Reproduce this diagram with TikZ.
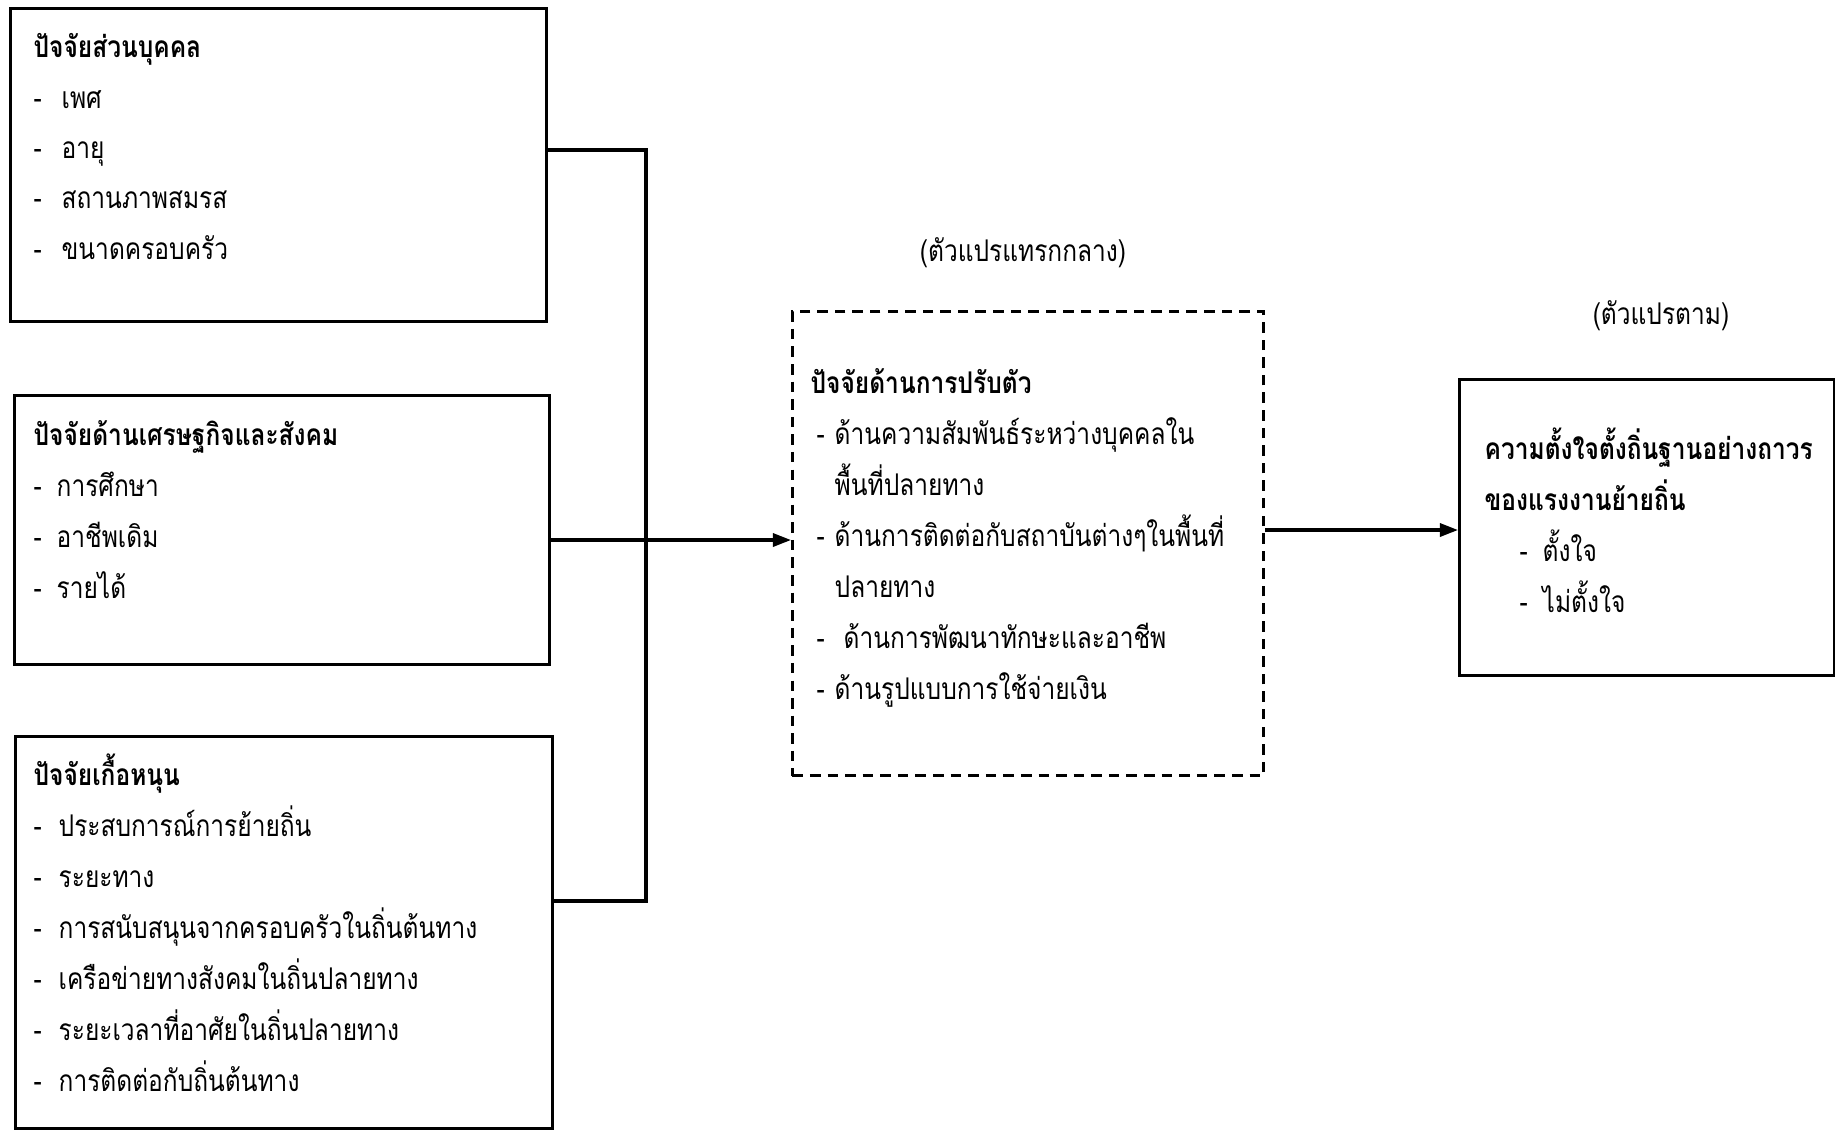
\documentclass[tikz,border=0pt]{standalone}
\usepackage{fontspec}
\newfontfamily\thaifont[Script=Thai, FakeStretch=0.82]{Loma}
\usetikzlibrary{arrows.meta}

\newcommand{\itm}[2][2.5mm]{\makebox[#1][l]{-}#2}

\begin{document}
\begin{tikzpicture}[x=0.01cm, y=-0.01cm,
    every node/.style={font=\thaifont\fontsize{8.5}{14.5}\selectfont},
    factorbox/.style={draw, line width=0.9pt, anchor=north west, inner sep=0pt},
    mediatorbox/.style={factorbox, line width=0.8pt, dash pattern=on 3pt off 2pt},
    boxtext/.style={anchor=base west, align=left, inner sep=0pt},
    link/.style={line width=0.9pt},
    arrowlink/.style={link, -{Triangle[length=1.8mm, width=1.3mm]}}]
    \useasboundingbox (0,0) rectangle (1835,1129);

    \node[factorbox, minimum width=5.36cm, minimum height=3.13cm] (personal) at (9,7) {};
    \node[factorbox, minimum width=5.35cm, minimum height=2.69cm] (economic) at (13,394) {};
    \node[factorbox, minimum width=5.37cm, minimum height=3.92cm] (support) at (14,735) {};
    \node[mediatorbox, minimum width=4.71cm, minimum height=4.64cm] (adjust) at (791,310) {};
    \node[factorbox, minimum width=3.75cm, minimum height=2.96cm] (intention) at (1458,378) {};

    % text is placed by the baseline of its last line
    \node[boxtext, font=\thaifont\fontsize{8.5}{14.3}\selectfont] (personaltext) at (33,259) {\textbf{ปัจจัยส่วนบุคคล}\\
        \itm[2.8mm]{เพศ}\\ \itm[2.8mm]{อายุ}\\ \itm[2.8mm]{สถานภาพสมรส}\\ \itm[2.8mm]{ขนาดครอบครัว}};
    \node[boxtext] (economictext) at (33,598) {\textbf{ปัจจัยด้านเศรษฐกิจและสังคม}\\
        \itm[2.3mm]{การศึกษา}\\ \itm[2.3mm]{อาชีพเดิม}\\ \itm[2.3mm]{รายได้}};
    \node[boxtext] (supporttext) at (33,1091) {\textbf{ปัจจัยเกื้อหนุน}\\
        \itm{ประสบการณ์การย้ายถิ่น}\\ \itm{ระยะทาง}\\ \itm{การสนับสนุนจากครอบครัวในถิ่นต้นทาง}\\
        \itm{เครือข่ายทางสังคมในถิ่นปลายทาง}\\ \itm{ระยะเวลาที่อาศัยในถิ่นปลายทาง}\\ \itm{การติดต่อกับถิ่นต้นทาง}};
    \node[boxtext] (adjusttext) at (810,699) {\textbf{ปัจจัยด้านการปรับตัว}\\
        \hspace*{0.6mm}\itm[1.8mm]{ด้านความสัมพันธ์ระหว่างบุคคลใน}\\ \hspace*{2.4mm}พื้นที่ปลายทาง\\
        \hspace*{0.6mm}\itm[1.8mm]{ด้านการติดต่อกับสถาบันต่างๆในพื้นที่}\\ \hspace*{2.4mm}ปลายทาง\\
        \hspace*{0.6mm}\itm[2.7mm]{ด้านการพัฒนาทักษะและอาชีพ}\\ \hspace*{0.6mm}\itm[1.8mm]{ด้านรูปแบบการใช้จ่ายเงิน}};
    \node[boxtext] (intentiontext) at (1484,612) {\textbf{ความตั้งใจตั้งถิ่นฐานอย่างถาวร}\\
        \textbf{ของแรงงานย้ายถิ่น}\\ \hspace*{3.5mm}\itm[2.3mm]{ตั้งใจ}\\ \hspace*{3.5mm}\itm[2.3mm]{ไม่ตั้งใจ}};

    \node (mediatorlabel) at (1023,253) {(ตัวแปรแทรกกลาง)};
    \node (outcomelabel) at (1661,316) {(ตัวแปรตาม)};

    \coordinate (bustop) at (646,150);
    \coordinate (busbottom) at (646,901);
    \draw[link] (personal.east |- bustop) -- (bustop) -- (busbottom) -- (support.east |- busbottom);
    \draw[arrowlink] (economic.east |- 0,540) -- (adjust.west |- 0,540);
    \draw[arrowlink] (adjust.east |- 0,530) -- (intention.west |- 0,530);
\end{tikzpicture}
\end{document}
